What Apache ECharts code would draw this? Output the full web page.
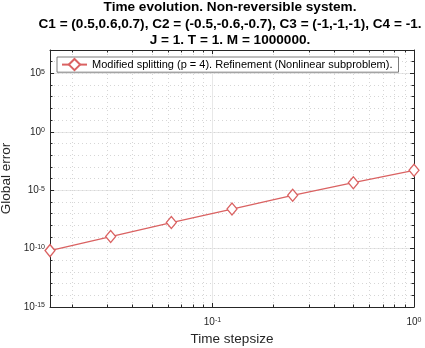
<!DOCTYPE html>
<html>
<head>
<meta charset="utf-8">
<script src="https://cdn.jsdelivr.net/npm/echarts@6/dist/echarts.min.js"></script>
<style>
  html, body { margin: 0; padding: 0; background: #fff; }
  #chart { width: 425px; height: 348px; }
</style>
</head>
<body>
<div id="chart"></div>
<script>
// data
var stepSizes = [0.015625, 0.03125, 0.0625, 0.125, 0.25, 0.5, 1];
var globalError = [6.7e-11, 1.06e-9, 1.7e-8, 2.4e-7, 3.6e-6, 4.4e-5, 5.0e-4];
var seriesName = 'Modified splitting (p = 4). Refinement (Nonlinear subproblem).';
var xMinorTicks = [0.02, 0.03, 0.04, 0.05, 0.06, 0.07, 0.08, 0.09,
                   0.2, 0.3, 0.4, 0.5, 0.6, 0.7, 0.8, 0.9];
var yMajorExp = [-15, -10, -5, 0, 5];
var xRange = [0.015625, 1];
var yRange = [1e-15, 1e7];

var axisColor = '#262626';
var lineColor = '#DA6262';
var majorGrid = '#e8e8e8';
var minorGrid = '#d6d6d6';
var font = 'Liberation Sans';

function expLabel(v, allowed) {
    var e = Math.log10(v);
    var r = Math.round(e);
    if (Math.abs(e - r) > 1e-6) return '';
    if (allowed && allowed.indexOf(r) < 0) return '';
    return '{b|10}{s|' + (r === 0 ? 0 : r) + '}';
}
var labelRich = {
    b: { fontSize: 10, fontFamily: font, color: axisColor, verticalAlign: 'bottom', lineHeight: 10, padding: [5, 0, 0, 0] },
    s: { fontSize: 7, fontFamily: font, color: axisColor, verticalAlign: 'top', lineHeight: 7 }
};

function logAxis(extra) {
    var base = {
        type: 'log', logBase: 10,
        axisLine: { show: true, lineStyle: { color: axisColor, width: 1 } },
        axisTick: { show: true, inside: true, length: 4, lineStyle: { color: axisColor } },
        axisLabel: { show: false },
        splitLine: { show: false },
        minorTick: { show: false }
    };
    return Object.assign(base, extra);
}

var chart = echarts.init(document.getElementById('chart'));
var option = {
    animation: false,
    backgroundColor: '#fff',
    graphic: [{
        type: 'text', x: 230, y: -1,
        style: {
            text: 'Time evolution. Non-reversible system.\nC1 = (0.5,0.6,0.7), C2 = (-0.5,-0.6,-0.7), C3 = (-1,-1,-1), C4 = -1.\nJ = 1. T = 1. M = 1000000.',
            font: 'bold 13.6px "Liberation Sans"', fill: '#000', textAlign: 'center', lineHeight: 16.6
        }
    }],
    grid: { left: 50, right: 11, top: 50, bottom: 41, containLabel: false, outerBoundsMode: 'none' },
    legend: {
        data: [seriesName],
        left: 57, top: 57,
        padding: [1, 6, 1, 4],
        itemWidth: 25, itemHeight: 14, itemGap: 5,
        backgroundColor: '#fff',
        borderColor: '#5a5a5a', borderWidth: 0.8, borderRadius: 0,
        textStyle: { fontSize: 11, fontFamily: font, color: '#000' }
    },
    xAxis: [
        logAxis({
            position: 'bottom', min: xRange[0], max: xRange[1],
            name: 'Time stepsize', nameLocation: 'middle', nameGap: 24,
            nameTextStyle: { fontSize: 13.5, fontFamily: font, color: axisColor },
            axisLabel: { show: true, margin: 10, rich: labelRich, showMinLabel: true, showMaxLabel: true,
                         formatter: function (v) { return expLabel(v); } },
            splitLine: { show: true, lineStyle: { color: majorGrid, width: 1 } }
        }),
        logAxis({ position: 'top', min: xRange[0], max: xRange[1] })
    ],
    yAxis: [
        logAxis({
            position: 'left', min: yRange[0], max: yRange[1], interval: 5,
            name: 'Global error', nameLocation: 'middle', nameGap: 36,
            nameTextStyle: { fontSize: 13.5, fontFamily: font, color: axisColor },
            axisLabel: { show: true, margin: 5, rich: labelRich, formatter: function (v) { return expLabel(v, yMajorExp); } },
            splitLine: { show: true, lineStyle: { color: majorGrid, width: 1 } }
        }),
        logAxis({ position: 'right', min: yRange[0], max: yRange[1], interval: 5 }),
        logAxis({
            position: 'left', min: yRange[0], max: yRange[1], interval: 1,
            axisLine: { show: false },
            axisTick: { show: true, inside: true, length: 2.5, lineStyle: { color: axisColor } },
            splitLine: { show: true, lineStyle: { color: minorGrid, type: [1, 3], width: 1 } }
        }),
        logAxis({
            position: 'right', min: yRange[0], max: yRange[1], interval: 1,
            axisLine: { show: false },
            axisTick: { show: true, inside: true, length: 2.5, lineStyle: { color: axisColor } }
        })
    ],
    series: [
        {
            type: 'custom', silent: true, z: 1,
            xAxisIndex: 0, yAxisIndex: 0,
            encode: { x: 0, y: 1 },
            data: xMinorTicks.map(function (v) { return [v, yRange[0]]; }),
            renderItem: function (params, api) {
                var b = api.coord([api.value(0), yRange[0]]);
                var t = api.coord([api.value(0), yRange[1]]);
                var x = Math.round(b[0]) + 0.5;
                return {
                    type: 'group',
                    children: [
                        { type: 'line', shape: { x1: x, y1: b[1], x2: x, y2: t[1] },
                          style: { stroke: minorGrid, lineWidth: 1, lineDash: [1, 3] } },
                        { type: 'line', shape: { x1: x, y1: b[1], x2: x, y2: b[1] - 2.5 },
                          style: { stroke: axisColor, lineWidth: 1 } },
                        { type: 'line', shape: { x1: x, y1: t[1], x2: x, y2: t[1] + 2.5 },
                          style: { stroke: axisColor, lineWidth: 1 } }
                    ]
                };
            }
        },
        {
            name: seriesName,
            type: 'line', z: 5,
            xAxisIndex: 0, yAxisIndex: 0,
            data: stepSizes.map(function (x, i) { return [x, globalError[i]]; }),
            symbol: 'diamond', symbolSize: [10, 12],
            lineStyle: { color: lineColor, width: 1.3 },
            itemStyle: { color: '#fff', borderColor: lineColor, borderWidth: 1.3 }
        }
    ]
};
chart.setOption(option);
</script>
</body>
</html>
